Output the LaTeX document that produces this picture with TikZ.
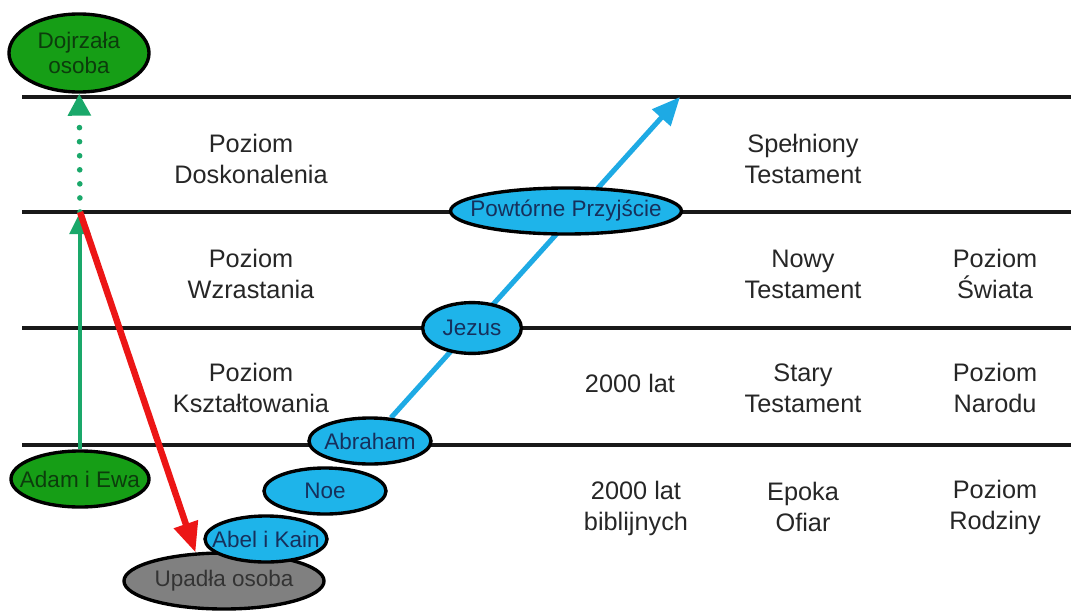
\documentclass[tikz,border=0pt]{standalone}
\usepackage{fontspec}
\setmainfont{Liberation Sans}
\usetikzlibrary{arrows.meta,shapes.geometric,backgrounds}
\definecolor{zielen}{RGB}{22,158,22}
\definecolor{ciemnazielen}{RGB}{12,60,12}
\definecolor{zielonastrzalka}{RGB}{26,168,106}
\definecolor{niebieski}{RGB}{30,180,234}
\definecolor{niebieskastrzalka}{RGB}{30,170,228}
\definecolor{granat}{RGB}{22,48,92}
\definecolor{szary}{RGB}{128,128,128}
\definecolor{czerwony}{RGB}{236,22,22}
\tikzstyle{opis}=[align=center, font=\fontsize{18}{22}\selectfont, text=black!85]
\tikzstyle{napis}=[align=center, font=\fontsize{16}{18}\selectfont, inner sep=0pt]
\tikzstyle{owal}=[ellipse, draw=black, line width=2.4pt, inner sep=0pt]
\tikzstyle{poziom}=[line width=2.6pt, black!90]
\tikzset{
  osoba/.style={owal, fill=zielen, label={[napis, text=ciemnazielen]center:#1}},
  upadla/.style={owal, fill=szary, label={[napis, text=black!80]center:#1}},
  etap/.style={owal, fill=niebieski, label={[napis, text=granat]center:#1}}
}

\begin{document}
\begin{tikzpicture}[x=0.025cm, y=-0.025cm]
  \useasboundingbox (0,0) rectangle (1071,612);
  % osoby
  \node[osoba=Dojrzała\\osoba, minimum width=3.5cm, minimum height=1.95cm] (dojrzala) at (79,53) {};
  \node[osoba=Adam i Ewa, minimum width=3.45cm, minimum height=1.4cm] (adam) at (80,479) {};
  \node[upadla=Upadła osoba, minimum width=5cm, minimum height=1.4cm] (upadla) at (224,581) {};
  % etapy historii
  \node[etap=Abel i Kain, minimum width=3.05cm, minimum height=1.15cm] (abel) at (266,539) {};
  \node[etap=Noe, minimum width=3.05cm, minimum height=1.15cm] (noe) at (325,491) {};
  \node[etap=Abraham, minimum width=3.05cm, minimum height=1.15cm] (abraham) at (370,441) {};
  \node[etap=Jezus, minimum width=2.47cm, minimum height=1.27cm] (jezus) at (472,328) {};
  \node[etap=Powtórne Przyjście, minimum width=5.77cm, minimum height=1.15cm] (przyjscie) at (566,211) {};
  % opisy poziomow
  \node[opis] (doskonalenie) at (251,159) {Poziom\\Doskonalenia};
  \node[opis] (wzrastanie) at (251,274) {Poziom\\Wzrastania};
  \node[opis] (ksztaltowanie) at (251,388) {Poziom\\Kształtowania};
  \node[opis] (lata) at (630,383) {2000 lat};
  \node[opis] (latabiblijne) at (636,508) {2000 lat\\biblijnych};
  \node[opis] (spelniony) at (803,159) {Spełniony\\Testament};
  \node[opis] (nowy) at (803,274) {Nowy\\Testament};
  \node[opis] (stary) at (803,388) {Stary\\Testament};
  \node[opis] (ofiary) at (803,507) {Epoka\\Ofiar};
  \node[opis] (swiat) at (995,274) {Poziom\\Świata};
  \node[opis] (narod) at (995,388) {Poziom\\Narodu};
  \node[opis] (rodzina) at (995,507) {Poziom\\Rodziny};
  \coordinate (szczyt) at (80,212);
  \coordinate (cel) at (680,97);
  \begin{scope}[on background layer]
    % linie poziomow
    \foreach \y in {97,212,328,445}
      \draw[poziom] (22,\y) -- (1071,\y);
    % strzalki
    \draw[zielonastrzalka, line width=3.5pt, -{Triangle[width=0.5cm, length=0.55cm]}] (adam) -- (szczyt);
    \draw[zielonastrzalka, line width=4pt, line cap=round, dash pattern=on 0pt off 10pt,
      -{Triangle[width=0.55cm, length=0.55cm]}] (szczyt) -- (dojrzala);
    \draw[czerwony, line width=4.6pt, -{Triangle[width=0.6cm, length=0.75cm]}] (szczyt) -- (upadla.135);
    \draw[niebieskastrzalka, line width=3.6pt, -{Triangle[width=0.6cm, length=0.7cm]}] (abraham) -- (cel);
  \end{scope}
\end{tikzpicture}
\end{document}
